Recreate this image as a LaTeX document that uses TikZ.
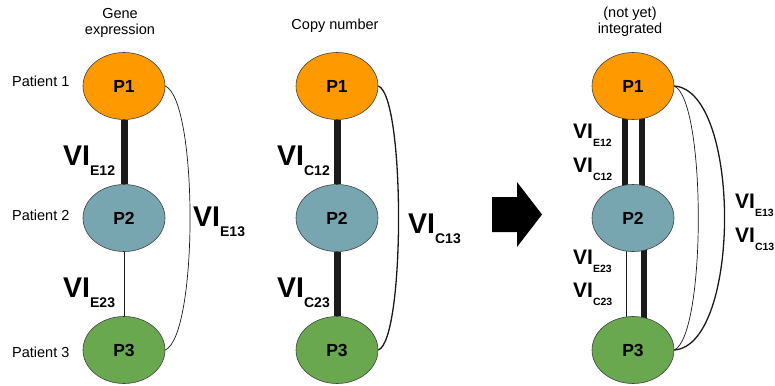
\documentclass[tikz,border=0pt]{standalone}
\usepackage{fontspec}
\setmainfont{Liberation Sans}
\usetikzlibrary{shapes.geometric,backgrounds,calc}

\definecolor{pOrange}{HTML}{FF9900}
\definecolor{pBlue}{HTML}{77A5B0}
\definecolor{pGreen}{HTML}{6AA84F}
\definecolor{edgeInk}{HTML}{1A1A1A}

% VI label with a dropped subscript: #1 VI size, #2 subscript size, #3 drop, #4 subscript
\newcommand{\vilab}[4]{%
  {\fontsize{#1}{#1}\selectfont\bfseries VI}%
  \raisebox{-#3}{\fontsize{#2}{#2}\selectfont\bfseries #4}}

\begin{document}
\begin{tikzpicture}[x=1pt,y=-1pt,
  patient/.style={ellipse, draw=black!75, line width=0.6pt,
    minimum width=82pt, minimum height=67pt, inner sep=0pt,
    font=\fontsize{17.5}{17.5}\selectfont\bfseries},
  caption/.style={align=center, inner sep=0pt,
    font=\fontsize{14.5}{16}\selectfont},
  rowlabel/.style={anchor=base west, inner sep=0pt,
    font=\fontsize{14.5}{14.5}\selectfont},
  vilabel/.style={anchor=base west, inner sep=0pt},
  edgeheavy/.style={draw=edgeInk, line width=7pt},
  edgemid/.style={draw=edgeInk, line width=6pt},
  edgelight/.style={draw=edgeInk, line width=1pt},
  arc thin/.style={draw=edgeInk, line width=0.7pt},
  arc bold/.style={draw=edgeInk, line width=1.3pt},
]
\useasboundingbox (0,0) rectangle (775,385);

% ---- column captions
\node[caption, anchor=north] (capE) at (120,8) {Gene\\expression};
\node[caption, anchor=base] (capC) at (335,30) {Copy number};
\node[caption, anchor=north] (capI) at (630,7) {(not yet)\\integrated};

% ---- row labels
\node[rowlabel] (row1) at (12,87) {Patient 1};
\node[rowlabel] (row2) at (12,220) {Patient 2};
\node[rowlabel] (row3) at (12,357) {Patient 3};

% ---- gene expression network
\node[patient, fill=pOrange] (l1) at (124,86) {P1};
\node[patient, fill=pBlue]   (l2) at (124,218) {P2};
\node[patient, fill=pGreen]  (l3) at (124,350) {P3};

% ---- copy number network
\node[patient, fill=pOrange] (m1) at (337,86) {P1};
\node[patient, fill=pBlue]   (m2) at (337,218) {P2};
\node[patient, fill=pGreen]  (m3) at (337,350) {P3};

% ---- integrated network
\node[patient, fill=pOrange] (r1) at (633,86) {P1};
\node[patient, fill=pBlue]   (r2) at (633,218) {P2};
\node[patient, fill=pGreen]  (r3) at (633,350) {P3};

\begin{pgfonlayer}{background}
  \draw[edgeheavy] (l1) -- (l2);
  \draw[edgelight] (l2) -- (l3);
  \draw[edgeheavy] (m1) -- (m2);
  \draw[edgeheavy] (m2) -- (m3);
  \draw[edgemid] ($(r1.center)+(-8.5,0)$) -- ($(r2.center)+(-8.5,0)$);
  \draw[edgemid] ($(r1.center)+(9,0)$) -- ($(r2.center)+(9,0)$);
  \draw[edgelight] ($(r2.center)+(-7,0)$) -- ($(r3.center)+(-7,0)$);
  \draw[edgemid] ($(r2.center)+(11,0)$) -- ($(r3.center)+(11,0)$);
\end{pgfonlayer}

% ---- long range links P1 -- P3
\draw[arc thin] (l1.east) .. controls +(33,15) and +(33,-15) .. (l3.east);
\draw[arc bold] (m1.east) .. controls +(27,10) and +(27,-10) .. (m3.east);
\draw[arc thin] (r1.east) .. controls +(32,15) and +(32,-15) .. (r3.east);
\draw[arc bold] (r1.east) .. controls +(67,5) and +(67,-5) .. (r3.east);

% ---- edge labels
\node[vilabel] (vE12) at (63,165) {\vilab{28.5}{14}{10pt}{E12}};
\node[vilabel] (vE23) at (63,297) {\vilab{28.5}{14}{10pt}{E23}};
\node[vilabel] (vE13) at (193,226) {\vilab{28.5}{14}{10pt}{E13}};

\node[vilabel] (vC12) at (277,165) {\vilab{28.5}{14}{10pt}{C12}};
\node[vilabel] (vC23) at (277,297) {\vilab{28.5}{14}{10pt}{C23}};
\node[vilabel] (vC13) at (408,233) {\vilab{28.5}{14}{10pt}{C13}};

\node[vilabel] (iE12) at (573,138) {\vilab{21}{10.5}{8pt}{E12}};
\node[vilabel] (iC12) at (573,172) {\vilab{21}{10.5}{8pt}{C12}};
\node[vilabel] (iE23) at (573,264) {\vilab{21}{10.5}{8pt}{E23}};
\node[vilabel] (iC23) at (573,297) {\vilab{21}{10.5}{8pt}{C23}};
\node[vilabel] (iE13) at (735,208) {\vilab{21}{10.5}{8pt}{E13}};
\node[vilabel] (iC13) at (735,242) {\vilab{21}{10.5}{8pt}{C13}};

% ---- block arrow between the inputs and the integrated network
\fill[black] (492,197) -- (517,197) -- (517,182) -- (542,214.5)
  -- (517,247) -- (517,232) -- (492,232) -- cycle;
\end{tikzpicture}
\end{document}
